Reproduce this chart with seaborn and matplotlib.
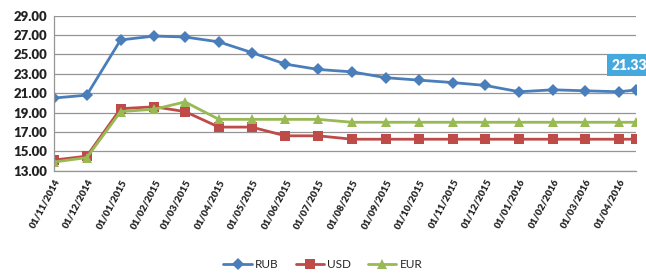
import pandas as pd
import matplotlib
import matplotlib.pyplot as plt
import matplotlib.dates as mdates
import seaborn as sns

matplotlib.use("Agg")

# даты (последняя точка - середина апреля 2016)
dates = ["2014-11-01", "2014-12-01", "2015-01-01", "2015-02-01", "2015-03-01",
         "2015-04-01", "2015-05-01", "2015-06-01", "2015-07-01", "2015-08-01",
         "2015-09-01", "2015-10-01", "2015-11-01", "2015-12-01", "2016-01-01",
         "2016-02-01", "2016-03-01", "2016-04-01", "2016-04-17"]
rub = [20.5, 20.8, 26.5, 26.9, 26.8, 26.3, 25.2, 24.0, 23.45, 23.2,
       22.6, 22.35, 22.1, 21.8, 21.15, 21.35, 21.25, 21.15, 21.33]
usd = [14.1, 14.5, 19.4, 19.6, 19.1, 17.5, 17.5, 16.6, 16.6, 16.25,
       16.25, 16.25, 16.25, 16.25, 16.25, 16.25, 16.25, 16.25, 16.25]
eur = [13.9, 14.35, 19.1, 19.35, 20.1, 18.3, 18.3, 18.3, 18.3, 18.0,
       18.0, 18.0, 18.0, 18.0, 18.0, 18.0, 18.0, 18.0, 18.0]
tick_dates = dates[:-1]
series = ["RUB", "USD", "EUR"]
colors = ["#4a7ebb", "#be4b48", "#98b954"]
markers = ["D", "s", "^"]

df = pd.DataFrame({"date": pd.to_datetime(dates), "RUB": rub, "USD": usd, "EUR": eur})
long = df.melt(id_vars="date", var_name="currency", value_name="value")

sns.set_style("white")
plt.rcParams["font.family"] = ["Lato", "DejaVu Sans"]

fig = plt.figure(figsize=(6.46, 2.73), dpi=100)
ax = fig.add_axes([54 / 646, 1 - 170.7 / 273, (636 - 54) / 646, (170.7 - 15.7) / 273])

for name, col, mk in zip(series, colors, markers):
    sns.lineplot(data=long[long["currency"] == name], x="date", y="value",
                 color=col, marker=mk, markersize=6.5, markeredgewidth=0,
                 linewidth=2, label=name, ax=ax)

ax.set_ylim(13, 29)
ax.set_yticks(range(13, 30, 2))
ax.set_yticklabels([f"{v:.2f}" for v in range(13, 30, 2)], fontsize=9.5,
                   fontweight="heavy", color="#222222")
ax.yaxis.grid(True, color="#959595", linewidth=0.9)
ax.set_axisbelow(True)

ax.set_xlim(pd.Timestamp(dates[0]), pd.Timestamp(dates[-1]))
ax.set_xticks(pd.to_datetime(tick_dates))
ax.xaxis.set_major_formatter(mdates.DateFormatter("%d/%m/%Y"))
plt.setp(ax.get_xticklabels(), rotation=62, ha="right", rotation_mode="anchor",
         fontsize=7, fontweight="heavy", color="#222222")
ax.tick_params(length=0, pad=5)
ax.set_xlabel("")
ax.set_ylabel("")

for side in ["top", "right"]:
    ax.spines[side].set_visible(False)
for side in ["left", "bottom"]:
    ax.spines[side].set_color("#959595")
    ax.spines[side].set_linewidth(0.9)

# подпись последнего значения RUB
ax.annotate(f"{rub[-1]:.2f}", xy=(pd.Timestamp(dates[-1]), rub[-1]),
            xytext=(-5, 18), textcoords="offset points", ha="center", va="center",
            fontsize=10, fontweight="heavy", color="white", annotation_clip=False,
            bbox=dict(boxstyle="square,pad=0.3", fc="#45a9dd", ec="none"))

ax.legend(loc="lower center", bbox_to_anchor=(0.5, -0.01), bbox_transform=fig.transFigure,
          ncol=3, frameon=False, fontsize=8.5, handlelength=2.4, columnspacing=1.4,
          handletextpad=0.3, borderaxespad=0.1)

fig.savefig("out.png", dpi=100)
